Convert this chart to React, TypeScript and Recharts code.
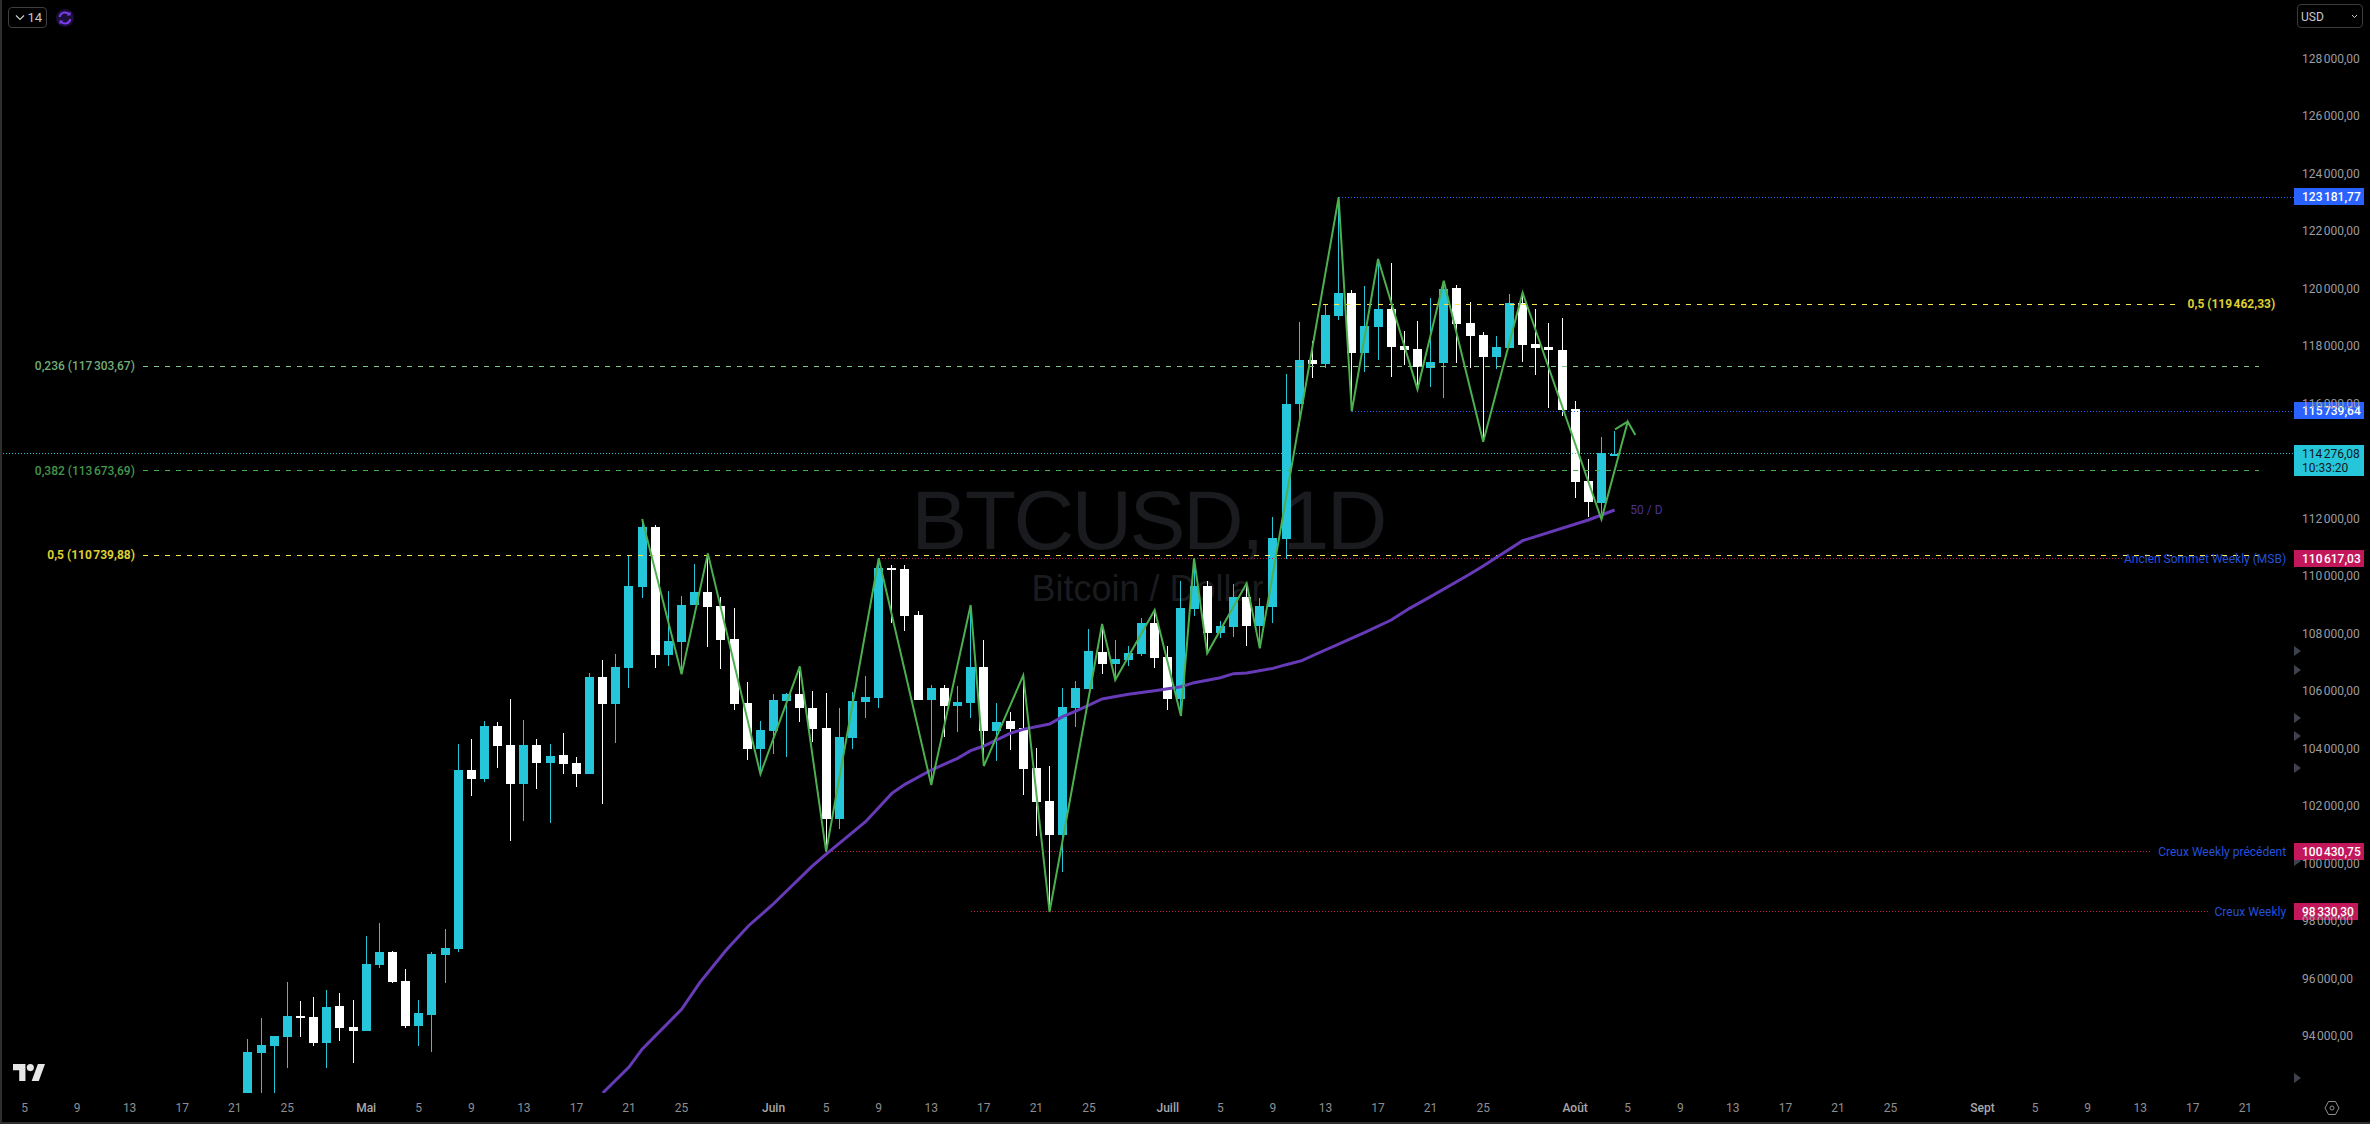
import { Bar, ComposedChart, Line, ReferenceDot, ReferenceLine, XAxis, YAxis } from 'recharts'

const WIDTH = 2370
const HEIGHT = 1124
const PLOT_RIGHT = 76
const PLOT_BOTTOM = 31

const FONT = 'Roboto, "Open Sans", sans-serif'
const CYAN = '#26c6da'
const GREEN = '#4caf50'
const LIGHT_GREEN = '#81c784'
const YELLOW = '#fbe94b'
const BLUE = '#2962ff'
const CRIMSON = '#c2185b'
const PURPLE = '#673ab7'
const LABEL_BLUE = '#2350dc'

// days are counted from 5 April, the leftmost time label
const dayDomain = [-1.865, 172.7]
const priceDomain = [92033, 130050]

const timeTickDays = [0, 4, 8, 12, 16, 20, 26, 30, 34, 38, 42, 46, 50, 57, 61, 65, 69, 73, 77, 81, 87, 91, 95, 99, 103, 107, 111, 118, 122, 126, 130, 134, 138, 142, 149, 153, 157, 161, 165, 169]
const timeTickLabels = ['5', '9', '13', '17', '21', '25', 'Mai', '5', '9', '13', '17', '21', '25', 'Juin', '5', '9', '13', '17', '21', '25', 'Juill', '5', '9', '13', '17', '21', '25', 'Août', '5', '9', '13', '17', '21', '25', 'Sept', '5', '9', '13', '17', '21']
const monthLabels = ['Mai', 'Juin', 'Juill', 'Août', 'Sept']
const priceTicks = [94000, 96000, 98000, 100000, 102000, 104000, 106000, 108000, 110000, 112000, 116000, 118000, 120000, 122000, 124000, 126000, 128000]

const firstCandleDay = 17
const opens = [87500, 93420, 93670, 93988, 94708, 94680, 93780, 95068, 94334, 94196, 96493, 96936, 95926, 94362, 94749, 96839, 97047, 103274, 102956, 104797, 104133, 102776, 104133, 103510, 103787, 103510, 103122, 106500, 105558, 106818, 109627, 111717, 107274, 107717, 109006, 109459, 108972, 107824, 105598, 103998, 104624, 105667, 105911, 105424, 104728, 101563, 104380, 105632, 105772, 110293, 110258, 108659, 105702, 106119, 105493, 105598, 106850, 104624, 104972, 104728, 103337, 102189, 101006, 105424, 106084, 107372, 106954, 107093, 107302, 108380, 107198, 105737, 108867, 109667, 108032, 108241, 109285, 108276, 108937, 111302, 115998, 117528, 117389, 119059, 119859, 117772, 118676, 119302, 118015, 117911, 117250, 117424, 120033, 118815, 118398, 117633, 117946, 119511, 118085, 117980, 117876, 115824, 113320, 112554, 114260]
const highs = [93919, 94639, 94016, 95898, 95234, 95372, 95621, 95511, 95275, 97490, 97946, 96977, 96341, 95275, 96936, 97739, 104174, 104340, 104977, 104935, 105738, 105005, 104340, 104174, 104562, 103717, 106638, 107094, 107302, 110720, 111950, 111786, 109489, 109323, 110432, 110745, 109273, 108902, 106328, 104972, 105899, 105957, 106873, 106015, 105946, 105424, 105980, 106537, 110630, 110398, 110398, 108798, 106224, 106224, 106189, 109006, 107789, 105598, 105285, 106560, 104032, 103406, 106120, 106351, 108160, 108346, 107789, 107580, 108554, 108832, 107580, 109841, 110630, 109841, 108450, 109737, 109760, 109250, 112067, 117041, 118838, 118189, 119441, 123181, 119963, 120102, 121041, 120902, 118537, 118885, 119685, 120288, 120137, 119546, 118502, 118363, 119824, 119870, 119302, 118815, 118989, 116102, 114085, 114850, 115059]
const lows = [87100, 91950, 91750, 92908, 93988, 93670, 92908, 93850, 93074, 94196, 96382, 95856, 94293, 93670, 93462, 95856, 96936, 102361, 102846, 103344, 100783, 101489, 102610, 101420, 103122, 102680, 103122, 102084, 104202, 106126, 109253, 106818, 106887, 106610, 109006, 107557, 106780, 105354, 103615, 103128, 103824, 103720, 104937, 104241, 100427, 101215, 103998, 105076, 105424, 108380, 108102, 105702, 102745, 104415, 104589, 105076, 103407, 103580, 103963, 102398, 100972, 98330, 99720, 104763, 106084, 106606, 106398, 106885, 107233, 106815, 105354, 105145, 108624, 107325, 107858, 107893, 107580, 107499, 108380, 110606, 115233, 116902, 117250, 118920, 115739, 117111, 117528, 116937, 117354, 116508, 116589, 116206, 117424, 117250, 114688, 117215, 117946, 117459, 117007, 115859, 115580, 112728, 112068, 111986, 114189]
const closes = [93462, 93711, 94016, 94708, 94639, 93780, 95026, 94293, 94196, 96521, 96936, 95898, 94362, 94818, 96867, 97078, 103274, 102956, 104797, 104105, 102776, 104133, 103510, 103759, 103482, 103122, 106500, 105558, 106845, 109669, 111717, 107274, 107759, 109005, 109459, 108937, 107789, 105563, 103998, 104659, 105702, 105911, 105424, 104694, 101563, 104415, 105667, 105806, 110293, 110224, 108624, 105702, 106119, 105493, 105632, 106850, 104624, 104937, 104694, 103302, 102154, 101006, 105459, 106119, 107406, 106954, 107128, 107337, 108380, 107163, 105737, 108902, 109667, 108032, 108276, 109285, 108276, 108972, 111337, 115998, 117528, 117389, 119093, 119859, 117772, 118711, 119302, 117980, 117876, 117285, 117459, 119998, 118780, 118363, 117633, 117980, 119511, 118050, 117946, 117876, 115789, 113285, 112589, 114293, 114276]

const zigzagDays = [47, 50, 52, 56, 59, 61, 65, 69, 72, 73, 76, 78, 82, 83, 86, 88, 89, 90, 93, 94, 100, 101, 103, 106, 108, 111, 114, 120, 122, 122.58]
const zigzagPrices = [111994, 106595, 110803, 103128, 106873, 100427, 110630, 102745, 109006, 103406, 106560, 98330, 108346, 106398, 108832, 105145, 110630, 107325, 109760, 107499, 123181, 115739, 121041, 116508, 120288, 114688, 119870, 111986, 115383, 114920]
const arrowWingDays = [121.03, 122]
const arrowWingPrices = [115117, 115383]

const maDays = [44, 46, 47, 50, 51.4, 53.4, 55.1, 56.9, 59.9, 61, 62, 64, 66, 67, 69, 71, 72, 73, 75, 76, 78, 79, 80, 81, 82, 84, 86, 88, 89, 91, 92, 93, 95, 96, 97.2, 98.3, 100, 102, 104, 105.4, 107, 110, 111, 112.3, 114, 119, 121]
const maPrices = [92033, 92936, 93559, 94943, 95884, 97006, 97852, 98572, 99905, 100345, 100716, 101470, 102455, 102768, 103267, 103673, 103939, 104102, 104542, 104682, 104867, 105122, 105319, 105528, 105737, 105899, 106026, 106166, 106305, 106478, 106618, 106641, 106803, 106931, 107070, 107302, 107650, 108056, 108485, 108890, 109296, 110085, 110363, 110745, 111244, 111963, 112311]

const lastPrice = 114276.08
const countdown = '10:33:20'
const swingHigh = 123181.77
const swingLow = 115739.64
const oldWeeklyHigh = 110617.03
const prevWeeklyLow = 100430.75
const weeklyLow = 98330.3
const fib236 = 117303.67
const fib382 = 113673.69
const fib500 = 110739.88
const fib500Upper = 119462.33
const scaleMarkerPrices = [107407, 106746, 105076, 104450, 103337, 100102, 92554]

const candles = opens.map((open, i) => ({
  day: firstCandleDay + i,
  open,
  close: closes[i],
  range: [lows[i], highs[i]],
}))
const zigzag = zigzagDays.map((day, i) => ({ day, price: zigzagPrices[i] }))
const arrowWing = arrowWingDays.map((day, i) => ({ day, price: arrowWingPrices[i] }))
const movingAverage = maDays.map((day, i) => ({ day, price: maPrices[i] }))

// French formatting: narrow space for thousands, comma for decimals
function formatPrice(value: number): string {
  const [whole, decimals] = value.toFixed(2).split('.')
  return `${whole.replace(/\B(?=(\d{3})+$)/g, '\u202f')},${decimals}`
}

function CandleShape(props: any) {
  const { x, y, width, height, payload } = props
  const [low, high] = payload.range
  const pxPerPrice = height / (high - low)
  const center = Math.floor(x + width / 2)
  const top = y + (high - Math.max(payload.open, payload.close)) * pxPerPrice
  const bottom = y + (high - Math.min(payload.open, payload.close)) * pxPerPrice
  const color = payload.close >= payload.open ? CYAN : '#ffffff'
  const bodyTop = Math.round(top)
  return (
    <g shapeRendering="crispEdges">
      <rect x={center} y={y} width={1} height={height} fill={color} />
      <rect x={center - 4} y={bodyTop} width={9} height={Math.max(Math.round(bottom) - bodyTop, 2)} fill={color} />
    </g>
  )
}

function PriceTick(props: any) {
  const { y, payload } = props
  return (
    <text x={2302} y={y + 4} fontFamily={FONT} fontSize={12} fill="#9c9ca0">
      {formatPrice(payload.value)}
    </text>
  )
}

function TimeTick(props: any) {
  const { x, payload, index } = props
  const label = timeTickLabels[index]
  const isMonth = monthLabels.includes(label)
  return (
    <text x={x} y={1112} textAnchor="middle" fontFamily={FONT} fontSize={12} fontWeight={isMonth ? 500 : 400} fill={isMonth ? '#a8a8ac' : '#8e8e92'} data-day={payload.value}>
      {label}
    </text>
  )
}

function priceTag(color: string, tagWidth = 70) {
  return (props: any) => {
    const cy = Math.round(props.cy)
    return (
      <g>
        <rect x={2294} y={cy - 9} width={tagWidth} height={17} fill={color} />
        <text x={2302} y={cy + 4} fontFamily={FONT} fontSize={12} fontWeight={500} fill="#ffffff">
          {formatPrice(props.payloadValue)}
        </text>
      </g>
    )
  }
}

function PriceTag({ price, color, tagWidth = 70 }: { price: number; color: string; tagWidth?: number }) {
  const shape = priceTag(color, tagWidth)
  return (
    <ReferenceDot
      x={dayDomain[1]}
      y={price}
      ifOverflow="visible"
      shape={(props: any) => shape({ ...props, payloadValue: price })}
    />
  )
}

function textAt(text: string, color: string, anchor: 'start' | 'end', fontWeight = 400) {
  return (props: any) => (
    <text x={props.cx} y={props.cy + 4} textAnchor={anchor} fontFamily={FONT} fontSize={12} fontWeight={fontWeight} fill={color}>
      {text}
    </text>
  )
}

function ScaleMarker(props: any) {
  const { cx, cy } = props
  return <path d={`M${cx} ${cy - 5}L${cx + 7} ${cy}L${cx} ${cy + 5}Z`} fill="#3f424e" />
}

function levelLine(price: number, from: number, to: number, stroke: string, dash: string) {
  return (
    <ReferenceLine
      key={`${price}-${from}`}
      segment={[
        { x: from, y: price },
        { x: to, y: price },
      ]}
      stroke={stroke}
      strokeWidth={1}
      strokeDasharray={dash}
      shapeRendering="crispEdges"
      ifOverflow="visible"
    />
  )
}

function TopLeftWidgets() {
  return (
    <div style={{ position: 'absolute', left: 8, top: 7 }}>
      <div style={{ position: 'absolute', left: 0, top: 0, width: 37, height: 19, border: '1px solid #3e3e42', borderRadius: 4, color: '#c8c8cc', fontFamily: FONT, fontSize: 13, lineHeight: '19px', textAlign: 'right', paddingRight: 0, boxSizing: 'content-box' }}>
        <span style={{ marginRight: 4 }}>14</span>
      </div>
      <svg style={{ position: 'absolute', left: 7, top: 7 }} width={12} height={8}>
        <path d="M1 1.5L5 5.5L9 1.5" stroke="#c8c8cc" strokeWidth={1.2} fill="none" />
      </svg>
      <svg style={{ position: 'absolute', left: 47, top: 1 }} width={20} height={20}>
        <circle cx={10} cy={10} r={9} fill="#1a0f38" />
        <path d="M4.6 9a5.5 5.5 0 0 1 9.6-2.6M15.4 11a5.5 5.5 0 0 1-9.6 2.6" stroke="#7c3cf0" strokeWidth={2} fill="none" />
        <path d="M15.6 3.6v4h-4zM4.4 16.4v-4h4z" fill="#7c3cf0" />
      </svg>
    </div>
  )
}

function CurrencyBox() {
  return (
    <div style={{ position: 'absolute', left: 2297, top: 4, width: 66, height: 24, border: '1px solid #3a3a3e', borderRadius: 4, color: '#c8c8cc', fontFamily: FONT, fontSize: 12, lineHeight: '24px', paddingLeft: 3, boxSizing: 'border-box' }}>
      USD
      <svg style={{ position: 'absolute', right: 4, top: 9 }} width={7} height={5}>
        <path d="M1 1L3.5 3.5L6 1" stroke="#c8c8cc" strokeWidth={1} fill="none" />
      </svg>
    </div>
  )
}

function Logo() {
  return (
    <svg style={{ position: 'absolute', left: 13, top: 1064 }} width={32} height={17} viewBox="0 0 36 19">
      <path d="M14 19H7V7H0V0h14v19zM29 19h-8l7-19h8L29 19z" fill="#e6e6e6" />
      <circle cx={19.5} cy={4} r={4} fill="#e6e6e6" />
    </svg>
  )
}

function SettingsIcon() {
  return (
    <svg style={{ position: 'absolute', left: 2324, top: 1100 }} width={16} height={16}>
      <path d="M4.5 1.5h7L15 8l-3.5 6.5h-7L1 8z" stroke="#8e8e92" fill="none" />
      <circle cx={8} cy={8} r={2} stroke="#8e8e92" fill="none" />
    </svg>
  )
}

export default function App() {
  return (
    <div style={{ position: 'relative', width: WIDTH, height: HEIGHT, background: '#000', overflow: 'hidden' }}>
      <style>{'html, body { margin: 0; background: #000; }'}</style>

      {/* watermark sits under the chart */}
      <div style={{ position: 'absolute', left: 0, width: 2296, top: 474, textAlign: 'center', fontFamily: '"Liberation Sans", Arial, sans-serif', fontSize: 84, lineHeight: '92px', letterSpacing: -2.6, color: '#1a1b1f', whiteSpace: 'nowrap' }}>
        BTCUSD, 1D
      </div>
      <div style={{ position: 'absolute', left: 0, width: 2295, top: 568, textAlign: 'center', fontFamily: '"Liberation Sans", Arial, sans-serif', fontSize: 36, lineHeight: '42px', color: '#1a1b1f', whiteSpace: 'nowrap' }}>
        Bitcoin / Dollar
      </div>

      <div style={{ position: 'absolute', left: 0, top: 0 }}>
        <ComposedChart
          width={WIDTH}
          height={HEIGHT}
          data={candles}
          margin={{ top: 0, right: 0, bottom: 0, left: 0 }}
        >
          <XAxis
            xAxisId={0}
            dataKey="day"
            type="number"
            scale="linear"
            domain={dayDomain}
            allowDataOverflow
            ticks={timeTickDays}
            interval={0}
            height={PLOT_BOTTOM}
            axisLine={false}
            tickLine={false}
            tick={<TimeTick />}
          />
          <YAxis
            yAxisId={0}
            orientation="right"
            type="number"
            domain={priceDomain}
            allowDataOverflow
            ticks={priceTicks}
            interval={0}
            width={PLOT_RIGHT}
            axisLine={false}
            tickLine={false}
            tick={<PriceTick />}
          />

          {levelLine(lastPrice, dayDomain[0], dayDomain[1], CYAN, '1 2')}
          {levelLine(fib236, 9.02, 170, LIGHT_GREEN, '5 6')}
          {levelLine(fib382, 9.02, 170, GREEN, '5 6')}
          {levelLine(fib500, 9.02, 170, YELLOW, '5 6')}
          {levelLine(fib500Upper, 98, 163.7, YELLOW, '5 6')}
          {levelLine(swingHigh, 100, dayDomain[1], BLUE, '1 2')}
          {levelLine(swingLow, 101, dayDomain[1], BLUE, '1 2')}
          {levelLine(oldWeeklyHigh, 65, 159.6, CRIMSON, '1 2')}
          {levelLine(prevWeeklyLow, 61, 161.8, CRIMSON, '1 2')}
          {levelLine(weeklyLow, 72, 166.2, CRIMSON, '1 2')}

          <Bar dataKey="range" barSize={9} shape={CandleShape} isAnimationActive={false} />

          <Line data={movingAverage} dataKey="price" type="linear" stroke={PURPLE} strokeWidth={3} dot={false} activeDot={false} isAnimationActive={false} />
          <Line data={zigzag} dataKey="price" type="linear" stroke={GREEN} strokeWidth={2} dot={false} activeDot={false} isAnimationActive={false} />
          <Line data={arrowWing} dataKey="price" type="linear" stroke={GREEN} strokeWidth={2} dot={false} activeDot={false} isAnimationActive={false} />

          <ReferenceDot x={122.2} y={maPrices[maPrices.length - 1]} ifOverflow="visible" shape={textAt('50 / D', '#4a3191', 'start')} />
          <ReferenceDot x={8.4} y={fib236} ifOverflow="visible" shape={textAt(`0,236 (${formatPrice(fib236)})`, '#74ad78', 'end', 500)} />
          <ReferenceDot x={8.4} y={fib382} ifOverflow="visible" shape={textAt(`0,382 (${formatPrice(fib382)})`, '#45964b', 'end', 500)} />
          <ReferenceDot x={8.4} y={fib500} ifOverflow="visible" shape={textAt(`0,5 (${formatPrice(fib500)})`, '#dccf32', 'end', 700)} />
          <ReferenceDot x={164.6} y={fib500Upper} ifOverflow="visible" shape={textAt(`0,5 (${formatPrice(fib500Upper)})`, '#dccf32', 'start', 700)} />
          <ReferenceDot x={172.1} y={oldWeeklyHigh} ifOverflow="visible" shape={textAt('Ancien Sommet Weekly (MSB)', LABEL_BLUE, 'end')} />
          <ReferenceDot x={172.1} y={prevWeeklyLow} ifOverflow="visible" shape={textAt('Creux Weekly précédent', LABEL_BLUE, 'end')} />
          <ReferenceDot x={172.1} y={weeklyLow} ifOverflow="visible" shape={textAt('Creux Weekly', LABEL_BLUE, 'end')} />

          {scaleMarkerPrices.map((price) => (
            <ReferenceDot key={price} x={dayDomain[1]} y={price} ifOverflow="visible" shape={ScaleMarker} />
          ))}

          {PriceTag({ price: swingHigh, color: BLUE })}
          {PriceTag({ price: swingLow, color: BLUE })}
          {PriceTag({ price: oldWeeklyHigh, color: CRIMSON })}
          {PriceTag({ price: prevWeeklyLow, color: CRIMSON })}
          {PriceTag({ price: weeklyLow, color: CRIMSON, tagWidth: 64 })}
          <ReferenceDot
            x={dayDomain[1]}
            y={lastPrice}
            ifOverflow="visible"
            shape={(props: any) => (
              <g>
                <rect x={2294} y={Math.round(props.cy) - 9} width={70} height={31} fill={CYAN} />
                <text x={2302} y={Math.round(props.cy) + 4} fontFamily={FONT} fontSize={12} fill="#131722">
                  {formatPrice(lastPrice)}
                </text>
                <text x={2302} y={Math.round(props.cy) + 18} fontFamily={FONT} fontSize={12} fill="#131722">
                  {countdown}
                </text>
              </g>
            )}
          />
        </ComposedChart>
      </div>

      <TopLeftWidgets />
      <CurrencyBox />
      <Logo />
      <SettingsIcon />

      {/* panel edges */}
      <div style={{ position: 'absolute', left: 0, top: 0, width: 2, height: HEIGHT, background: '#2e2e2e' }} />
      <div style={{ position: 'absolute', left: 0, top: 1122, width: WIDTH, height: 2, background: '#2e2e2e' }} />
    </div>
  )
}
